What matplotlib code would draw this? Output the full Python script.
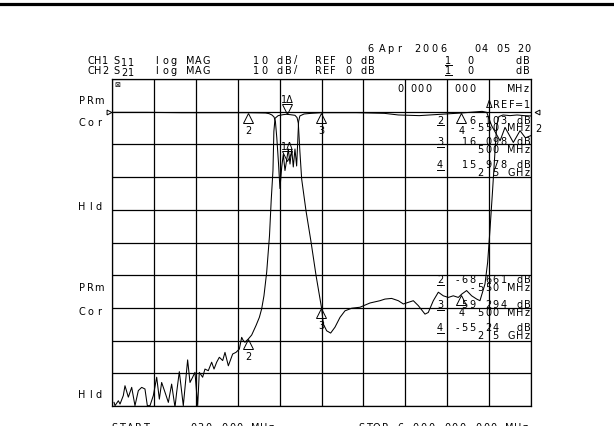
import numpy as np
import matplotlib
matplotlib.use('Agg')
import matplotlib.pyplot as plt
from matplotlib.transforms import offset_copy

# frequency axis: START .030 MHz, STOP 6000 MHz, 10 dB/div, REF 0 dB
f_start, f_stop = 0.03, 6000.0
db_top, db_bot = 10.0, -90.0

# CH2 = S21 (MHz, dB)
s21_freq = [30, 43, 91, 115, 162, 186, 234, 282, 329, 377, 425, 472, 506, 544,
            592, 640, 678, 711, 759, 807, 854, 902, 926, 964, 1021, 1083, 1117,
            1155, 1188, 1227, 1250, 1298, 1331, 1379, 1427, 1461, 1499, 1537,
            1585, 1618, 1666, 1728, 1775, 1823, 1857, 1880, 1904, 1952, 2000,
            2062, 2110, 2143, 2176, 2215, 2255, 2280, 2305, 2318, 2335, 2380,
            2450, 2500, 2550, 2620, 2650, 2668, 2690, 2716, 2778, 2850, 2922,
            3003, 3026, 3074, 3131, 3193, 3265, 3336, 3432, 3551, 3694, 3837,
            3909, 4004, 4100, 4172, 4243, 4315, 4386, 4482, 4529, 4601, 4673,
            4744, 4816, 4887, 4959, 5007, 5078, 5150, 5222, 5269, 5341, 5379,
            5413, 5450, 5485, 5510, 5540, 5600, 5700, 5800, 5900, 6000]
s21_db = [-88.9, -89.9, -88.4, -89.4, -86.8, -83.8, -87.3, -84.3, -89.9, -85.3,
          -84.3, -84.8, -89.9, -89.9, -86.8, -81.2, -87.9, -82.8, -85.8, -88.9,
          -83.3, -90.4, -85.8, -79.5, -89.9, -75.9, -82.8, -81.2, -79.7, -89.9,
          -79.7, -81.2, -78.7, -79.2, -76.6, -78.7, -76.6, -75.1, -76.1, -73.6,
          -77.7, -74.1, -73.6, -72.6, -69.0, -70.0, -70.5, -69.5, -68.3, -65.4,
          -62.9, -60.3, -56.3, -49.1, -38.0, -27.0, -18.0, -6.0, -2.0, -1.2,
          -0.9, -0.8, -0.9, -1.1, -1.8, -3.5, -12.0, -20.6, -30.3, -39.8, -50.1,
          -60.3, -64.9, -67.0, -67.7, -65.9, -62.9, -60.9, -60.1, -59.8, -58.5,
          -57.8, -57.3, -57.1, -57.8, -58.8, -58.3, -57.8, -59.3, -61.9, -61.4,
          -57.8, -55.2, -56.3, -56.8, -56.3, -56.8, -55.8, -54.7, -56.3, -57.3,
          -57.8, -52.7, -46.1, -36.0, -24.0, -12.0, -4.0, -1.5, -1.0, -1.2,
          -1.0, -1.2, -1.3]

# CH1 = S11
s11_freq = [30, 500, 1000, 1500, 1950, 2200, 2250, 2290, 2320, 2340, 2360, 2385,
            2405, 2430, 2453, 2477, 2500, 2525, 2549, 2573, 2596, 2620, 2644,
            2660, 2672, 2690, 2750, 2850, 3000, 3500, 3900, 4100, 4400, 4700,
            5000, 5300, 5366, 5437, 5557, 5628, 5747, 5843, 5920, 6000]
s11_db = [-0.2, -0.2, -0.3, -0.3, -0.3, -0.4, -0.6, -1.0, -1.6, -3.0, -8.0,
          -16.0, -23.5, -17.0, -13.0, -18.0, -15.0, -11.4, -16.0, -11.4, -16.9,
          -11.4, -16.6, -9.0, -3.0, -1.3, -0.7, -0.5, -0.3, -0.3, -0.5, -1.0,
          -1.2, -0.8, -0.4, 0.1, -0.2, -4.3, -8.9, -4.8, -9.4, -5.8, -8.0, -7.3]

# markers: 1 = reference, 2 = -550 MHz, 3 = +500 MHz, 4 = +2.5 GHz
mkr_freq = [2500, 1950, 3000, 5000]
mkr_names = ['1', '2', '3', '4']

header_ch1 = ['CH1', '11', 'log MAG', '10 dB/', 'REF 0 dB']
header_ch2 = ['CH2', '21', 'log MAG', '10 dB/', 'REF 0 dB']
date_parts = ['6', 'Apr', '2006', '04', '05', '20']
ch1_readout = [('2', '6 103 dB', '-550 MHz'), ('3', '16 098 dB', '500 MHz'),
               ('4', '15 978 dB', '2 5 GHz')]
ch2_readout = [('2', '-68 661 dB', '-550 MHz'), ('3', '-59 294 dB', '500 MHz'),
               ('4', '-55 24  dB', '2 5 GHz')]

W, H = 614, 427
fig = plt.figure(figsize=(W / 100, H / 100), dpi=100)
fig.patch.set_facecolor('white')

# graticule
ax = fig.add_axes([112 / W, (H - 407) / H, 419 / W, 327 / H])
ax.set_xlim(f_start, f_stop)
ax.set_ylim(db_bot, db_top)
ax.set_xticks(np.linspace(f_start, f_stop, 11))
ax.set_yticks(np.linspace(db_bot, db_top, 11))
ax.tick_params(length=0, labelbottom=False, labelleft=False)
ax.grid(True, color='black', lw=0.9)
for s in ax.spines.values():
    s.set_linewidth(0.9)
ax.set_facecolor('none')

ax.plot(s21_freq, s21_db, color='black', lw=0.75)
ax.plot(s11_freq, s11_db, color='black', lw=0.75)

txt = dict(fontsize=7, family='DejaVu Sans', color='black')

# markers on both traces
for freq_arr, db_arr in [(s11_freq, s11_db), (s21_freq, s21_db)]:
    for f, name in zip(mkr_freq, mkr_names):
        d = np.interp(f, freq_arr, db_arr)
        if name == '1':
            tr = offset_copy(ax.transData, fig=fig, x=0, y=5, units='dots')
            ax.plot(f, d, marker='v', ms=6.5, mfc='none', mec='black', mew=0.7,
                    transform=tr, clip_on=False)
            ax.annotate('1Δ', (f, d), xytext=(1, 15), textcoords='offset pixels',
                        ha='center', va='center', **txt)
        else:
            tr = offset_copy(ax.transData, fig=fig, x=0, y=-5, units='dots')
            ax.plot(f, d, marker='^', ms=6.5, mfc='none', mec='black', mew=0.7,
                    transform=tr, clip_on=False)
            ax.annotate(name, (f, d), xytext=(0, -17), textcoords='offset pixels',
                        ha='center', va='center', **txt)

# overlay in screen pixels for the annotation text
ov = fig.add_axes([0, 0, 1, 1])
ov.set_xlim(0, W)
ov.set_ylim(H, 0)
ov.axis('off')


def put(x, y, s, pitch=7.8):
    # monospaced screen text, x = centre of first char, y = middle of caps
    for i, ch in enumerate(s):
        if ch != ' ':
            ov.text(x + i * pitch, y + 3.5, ch, ha='center', va='baseline', **txt)


def put_right(xr, y, s, pitch=7.8):
    put(xr - (len(s) - 1) * pitch, y, s, pitch)


def underline(x, y):
    ov.plot([x - 3.5, x + 3.5], [y + 5.5, y + 5.5], color='black', lw=0.7)


ov.plot([0, W], [5, 5], color='black', lw=2.3)

# header rows
for y, hdr in [(60, header_ch1), (70, header_ch2)]:
    put(90.5, y, hdr[0], 7.5)
    put(116, y, 'S')
    put(124, y + 3, hdr[1], 7.0)
    put(157, y, hdr[2], 8.2)
    put(256, y, hdr[3], 8.0)
    put(318, y, hdr[4], 7.6)
    put(448, y, '1')
    underline(448, y)
    put(470, y, '0')
    put(519, y, 'dB')

put(370, 49, date_parts[0])
put(382, 49, date_parts[1], 8.5)
put(417, 49, date_parts[2], 8.7)
put(477, 49, date_parts[3])
put(499, 49, date_parts[4])
put(520, 49, date_parts[5])

# channel status labels on the left
for y, lab in [(100, 'PRm'), (123, 'Cor'), (207, 'Hld'),
               (288, 'PRm'), (312, 'Cor'), (395, 'Hld')]:
    put(82, y, lab, 8.5)

ov.text(117, 85, '⊠', ha='center', va='center', fontsize=5, family='DejaVu Sans')
ov.plot(109, 112.7, marker='>', ms=3.5, mfc='none', mec='black', mew=0.7)
ov.plot(537, 112.7, marker='<', ms=3.5, mfc='none', mec='black', mew=0.7)
put(538, 129, '2')

# marker readouts
put(400, 88, '0')
put(413, 88, '000')
put(457, 88, '000')
put(511, 88, 'MHz')
put_right(527, 105, 'ΔREF=1', 7.6)
for (name, val, fr), y in zip(ch1_readout, [120, 142, 165]):
    put(440, y, name)
    underline(440, y)
    put_right(527, y, val)
    put_right(527, y + 8, fr)
for (name, val, fr), y in zip(ch2_readout, [280, 305, 328]):
    put(440, y, name)
    underline(440, y)
    put_right(527, y, val)
    put_right(527, y + 8, fr)

# start / stop line, cut off at the bottom edge
put(114, 428, 'START', 8.0)
put_right(271, 428, '.030 000 MHz')
put_right(525, 428, 'STOP 6 000.000 000 MHz')

fig.savefig('out.png', dpi=100)
